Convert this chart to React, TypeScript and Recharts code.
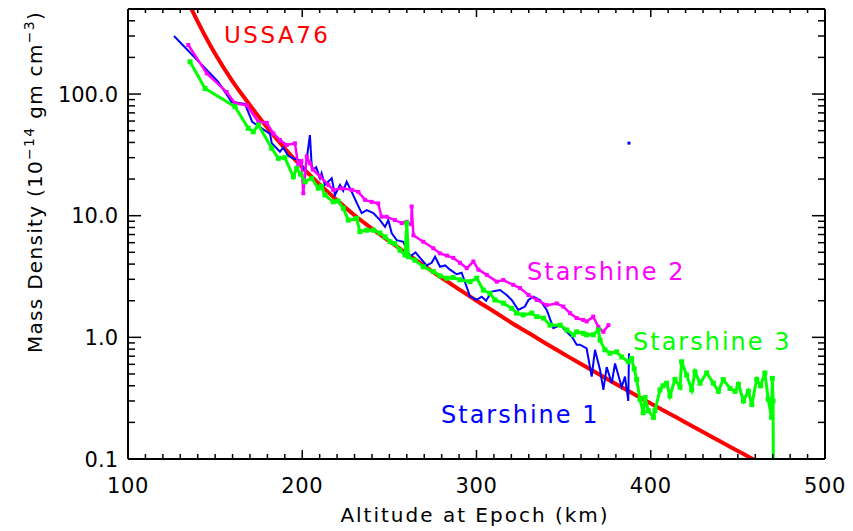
import React from 'react';
import { ComposedChart, Line, XAxis, YAxis, Scatter, Label } from 'recharts';

const FONT = '"DejaVu Sans", "Liberation Sans", sans-serif';

// Axis ticks
const altTicks = [100,110,120,130,140,150,160,170,180,190,200,210,220,230,240,250,260,270,280,290,300,310,320,330,340,350,360,370,380,390,400,410,420,430,440,450,460,470,480,490,500];
const altMajor = [100, 200, 300, 400, 500];
const densTicks = [0.1,0.2,0.3,0.4,0.5,0.6,0.7,0.8,0.9,1,2,3,4,5,6,7,8,9,10,20,30,40,50,60,70,80,90,100,200,300,400,500];
const densMajor = [0.1, 1, 10, 100];
const densMajorLabels = ['0.1', '1.0', '10.0', '100.0'];

// USSA76 model curve
const ussaAlt = [134,140,150,160,170,180,190,200,210,220,230,240,250,260,270,280,290,300,310,320,330,340,350,360,370,380,390,400,410,420,430,440,450,460,462];
const ussaDens = [589,394,214,127,81.0,52.8,35.7,25.0,18.1,13.4,10.07,7.82,6.17,4.88,3.87,3.09,2.48,2.00,1.63,1.32,1.084,0.887,0.731,0.603,0.499,0.413,0.344,0.286,0.239,0.1995,0.167,0.139,0.1164,0.0973,0.0938];

// Starshine 1 (blue)
const s1Alt = [126.4,151.8,159.5,167.1,171.3,181.5,182.5,187.2,189.1,192,194.9,198.7,201.6,204.4,205.4,206.3,208,210.2,211.1,213,216.9,218.8,221.7,223.5,225.5,228.4,231,234.1,237,240.8,244.6,247.5,249.4,251.3,254.2,258,261.8,265,267.6,271.4,274.3,276.2,279.1,282,284.8,288.6,291.5,296.3,300.1,303,305.5,308.7,313.5,317.3,320.2,324,327.8,329.8,332.6,336.4,340.3,344.1,348,351.7,355,357.5,359.4,363.2,366.1,368,370.9,372.8,374.7,377.6,379.5,383.3,385.2,387.1,387.5];
const s1Dens = [300,126,86,83,59,47,39.4,33.6,36.2,31,29.6,28.5,23.0,46.0,26.1,23.8,25,20.3,22.3,17.9,20.3,14.8,17.9,16,19.0,15.7,13,10.5,11.1,10.5,9.2,8.1,9.2,7.2,6.3,6.1,4.6,5.0,4.5,3.9,4.1,4.6,3.8,3.9,3.6,3.3,3.4,2.16,2.03,2.16,2.0,2.38,2.45,2.23,2.03,1.68,1.79,2.03,2.16,2.03,1.68,1.19,1.26,1.11,1.0,0.87,0.87,0.81,0.475,0.79,0.54,0.37,0.57,0.42,0.61,0.39,0.475,0.30,0.74];
const s1OutAlt = [387.5];
const s1OutDens = [39.5];

// Starshine 2 (magenta)
const s2Alt = [134.6,145.2,156.6,161.4,168.1,174.8,179.6,183.4,187.2,191.1,195.8,197.7,199.5,200.6,202.6,204.5,206,210.2,215,217.8,222.6,228.4,232.2,236,239.8,243.6,245.5,248.4,253.2,257.1,259.9,262.6,262.8,263.8,269.5,275.2,279.1,283,286.7,290.5,294.4,298.2,301.1,305.9,311.6,315.4,321.1,325,329.8,334.6,340.3,346,349.8,353.7,357.5,361.3,363.2,367,369.9,372.8,375.7];
const s2Dens = [253,148,104,84,81,59,58,47.5,41.9,38.1,39.3,26.1,28,15.3,30.5,27,24,21,17.9,16.3,16.8,16.3,15.7,13.5,13.0,12.6,9.8,9.8,9.2,8.7,8.9,8.5,11.9,6.9,6.1,5.4,4.9,4.7,4.5,4.1,3.7,4.2,3.6,3.26,2.87,2.96,2.70,2.54,2.23,2.03,1.84,1.90,1.79,1.58,1.44,1.39,1.35,1.48,1.22,1.11,1.26];

// Starshine 3 (green)
const s3Alt = [135.6,144.2,161.4,169,171.9,174.8,182.5,186.3,190,194.9,196.8,199,201.6,205.4,209.2,211,213,217.8,220.5,223.6,226.4,231.2,233.1,237,240.8,244.6,247.5,250.4,253,256.1,259,260,260.9,264.7,269.5,275.2,279.1,282.9,286.5,290.5,296.3,300.1,303.9,307.7,310.6,315.4,320.2,323,326.8,331.7,334.6,338.4,342.2,348,351.8,355.6,357.5,361.3,363.2,367,369.9,370.9,373.7,376.6,380.4,383.3,387.1,389,390.5,391.9,393.8,395.7,396.7,398.6,401.5,402.4,405.3,407,409.1,411,413.9,416.8,417.7,420.6,423.5,425.4,428.3,432.1,435.9,438.8,441.6,445.5,448.4,450.3,453.2,456,458,460.8,463,465.5,467.4,469.3,469.8,470.2,470.4];
const s3Dens = [184,111,78.7,52.3,49,55.6,35.8,29.6,30,20.9,24.5,22,19.0,20.3,16.8,17.5,14.8,13.0,13.2,11.5,9.2,9.5,7.4,7.6,7.6,7.2,6.7,6.1,5.9,5.2,4.75,8.7,4.6,4.3,3.8,3.47,3.2,3.06,3.1,2.97,2.87,3.06,2.45,2.30,2.03,1.91,1.73,1.58,1.53,1.58,1.48,1.44,1.26,1.26,1.15,1.05,1.11,1.08,1.05,1.05,1.15,0.95,0.79,0.74,0.76,0.69,0.63,0.67,0.55,0.45,0.31,0.24,0.32,0.25,0.22,0.25,0.37,0.40,0.42,0.33,0.45,0.39,0.63,0.49,0.37,0.52,0.42,0.51,0.42,0.36,0.45,0.38,0.36,0.41,0.30,0.36,0.28,0.45,0.40,0.51,0.31,0.22,0.46,0.3,0.05];

const zip = (a: number[], d: number[]) => a.map((v, i) => ({ a: v, d: d[i] }));
const ussaData = zip(ussaAlt, ussaDens);
const s1Data = zip(s1Alt, s1Dens);
const s1Out = zip(s1OutAlt, s1OutDens);
const s2Data = zip(s2Alt, s2Dens);
const s3Data = zip(s3Alt, s3Dens);

const RED = '#ff0000';
const BLUE = '#0000ff';
const MAGENTA = '#ff00ff';
const GREEN = '#00ff00';

const near = (v: number, arr: number[]) => arr.some((m) => Math.abs(m - v) < 1e-9);

const XBottomTick = (p: any) => {
  const { x, y, payload } = p;
  const major = near(payload.value, altMajor);
  return (
    <g>
      <line x1={x} x2={x} y1={y} y2={y - (major ? 9 : 5)} stroke="#000" strokeWidth={1.5} />
      {major && (
        <text x={x} y={y + 34} textAnchor="middle" fontSize={21} fontFamily={FONT} fill="#000" letterSpacing={0.6}>
          {payload.value}
        </text>
      )}
    </g>
  );
};

const XTopTick = (p: any) => {
  const { x, y, payload } = p;
  const major = near(payload.value, altMajor);
  return <line x1={x} x2={x} y1={y} y2={y + (major ? 8 : 4)} stroke="#000" strokeWidth={1.5} />;
};

const YLeftTick = (p: any) => {
  const { x, y, payload } = p;
  const idx = densMajor.findIndex((m) => Math.abs(m - payload.value) < 1e-9);
  const major = idx >= 0;
  return (
    <g>
      <line x1={x} x2={x + (major ? 13 : 7)} y1={y} y2={y} stroke="#000" strokeWidth={1.5} />
      {major && (
        <text x={x - 10} y={y + 7.5} textAnchor="end" fontSize={21} fontFamily={FONT} fill="#000">
          {densMajorLabels[idx]}
        </text>
      )}
    </g>
  );
};

const YRightTick = (p: any) => {
  const { x, y, payload } = p;
  const major = near(payload.value, densMajor);
  return <line x1={x} x2={x - (major ? 13 : 7)} y1={y} y2={y} stroke="#000" strokeWidth={1.5} />;
};

const squareDot = (color: string, s: number) => (p: any) => (
  <rect key={`d-${p.index}`} x={p.cx - s / 2} y={p.cy - s / 2} width={s} height={s} fill={color} />
);

const YTitle = () => (
  <text
    transform="translate(42,182) rotate(-90)"
    textAnchor="middle"
    fontSize={20}
    fontFamily={FONT}
    fill="#000"
    letterSpacing={1.3}
  >
    Mass Density (10
    <tspan dy={-8} fontSize={14}>−14</tspan>
    <tspan dy={8}> gm cm</tspan>
    <tspan dy={-8} fontSize={14}>−3</tspan>
    <tspan dy={8}>)</tspan>
  </text>
);

export default function App() {
  return (
    <div style={{ position: 'absolute', left: 0, top: 0, background: '#fff' }}>
      <ComposedChart width={853} height={531} margin={{ top: 0, right: 0, bottom: 0, left: 0 }}>
        <XAxis
          xAxisId="bottom"
          orientation="bottom"
          type="number"
          dataKey="a"
          domain={[100, 500]}
          allowDataOverflow
          ticks={altTicks}
          interval={0}
          height={72}
          tickSize={0}
          tickMargin={0}
          tickLine={false}
          axisLine={{ stroke: '#000', strokeWidth: 2 }}
          tick={(p: any) => <XBottomTick {...p} />}
        >
          <Label
            content={() => (
              <text x={475} y={522} textAnchor="middle" fontSize={20} fontFamily={FONT} fill="#000" letterSpacing={2}>
                Altitude at Epoch (km)
              </text>
            )}
          />
        </XAxis>
        <XAxis
          xAxisId="top"
          orientation="top"
          type="number"
          dataKey="a"
          domain={[100, 500]}
          allowDataOverflow
          ticks={altTicks}
          interval={0}
          height={9}
          tickSize={0}
          tickMargin={0}
          tickLine={false}
          axisLine={{ stroke: '#000', strokeWidth: 2 }}
          tick={(p: any) => <XTopTick {...p} />}
        />
        <YAxis
          yAxisId="left"
          orientation="left"
          type="number"
          scale="log"
          domain={[0.1, 500]}
          allowDataOverflow
          ticks={densTicks}
          interval={0}
          width={128}
          tickSize={0}
          tickMargin={0}
          tickLine={false}
          axisLine={{ stroke: '#000', strokeWidth: 2 }}
          tick={(p: any) => <YLeftTick {...p} />}
        >
          <Label content={() => <YTitle />} />
        </YAxis>
        <YAxis
          yAxisId="right"
          orientation="right"
          type="number"
          scale="log"
          domain={[0.1, 500]}
          allowDataOverflow
          ticks={densTicks}
          interval={0}
          width={28}
          tickSize={0}
          tickMargin={0}
          tickLine={false}
          axisLine={{ stroke: '#000', strokeWidth: 2 }}
          tick={(p: any) => <YRightTick {...p} />}
        />
        <Line
          xAxisId="bottom"
          yAxisId="left"
          data={ussaData}
          dataKey="d"
          type="monotone"
          stroke={RED}
          strokeWidth={4}
          dot={false}
          isAnimationActive={false}
        />
        <Line
          xAxisId="bottom"
          yAxisId="left"
          data={s1Data}
          dataKey="d"
          type="linear"
          stroke={BLUE}
          strokeWidth={2}
          dot={false}
          isAnimationActive={false}
        />
        <Line
          xAxisId="bottom"
          yAxisId="left"
          data={s2Data}
          dataKey="d"
          type="linear"
          stroke={MAGENTA}
          strokeWidth={2.5}
          dot={squareDot(MAGENTA, 4)}
          isAnimationActive={false}
        />
        <Line
          xAxisId="bottom"
          yAxisId="left"
          data={s3Data}
          dataKey="d"
          type="linear"
          stroke={GREEN}
          strokeWidth={3}
          dot={squareDot(GREEN, 5)}
          isAnimationActive={false}
        />
        <Scatter
          xAxisId="bottom"
          yAxisId="left"
          data={s1Out}
          dataKey="d"
          fill={BLUE}
          shape={(p: any) => <rect x={p.cx - 1.5} y={p.cy - 1.5} width={3} height={3} fill={BLUE} />}
          isAnimationActive={false}
        />
        <text x={224} y={43} fontSize={23} fontFamily={FONT} fill={RED} letterSpacing={2.5}>USSA76</text>
        <text x={527} y={280} fontSize={24} fontFamily={FONT} fill={MAGENTA} letterSpacing={2}>Starshine 2</text>
        <text x={633} y={350} fontSize={24} fontFamily={FONT} fill={GREEN} letterSpacing={2}>Starshine 3</text>
        <text x={441} y={423} fontSize={24} fontFamily={FONT} fill={BLUE} letterSpacing={2}>Starshine 1</text>
      </ComposedChart>
    </div>
  );
}
